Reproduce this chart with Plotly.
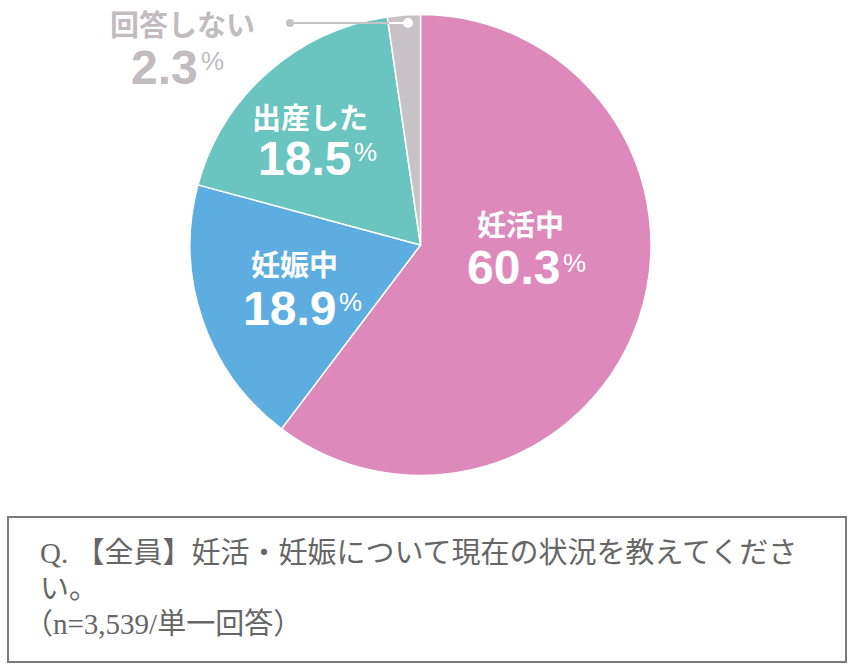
import plotly.graph_objects as go

# ---- data ----
labels = ["妊活中", "妊娠中", "出産した", "回答しない"]
values = [60.3, 18.9, 18.5, 2.3]
colors = ["#DD89BC", "#5EADE0", "#6AC4C0", "#C8C1C5"]
value_text = ["60.3", "18.9", "18.5", "2.3"]
caption_lines = [
    "Q. 【全員】妊活・妊娠について現在の状況を教えてくださ",
    "い。",
    "（n=3,539/単一回答）",
]

W, H = 853, 668


def px(x):
    return x / W


def py(y):
    return 1 - y / H


fig = go.Figure(
    go.Pie(
        labels=labels,
        values=values,
        sort=False,
        direction="clockwise",
        rotation=0,
        marker=dict(colors=colors, line=dict(color="white", width=1.5)),
        textinfo="none",
        hoverinfo="skip",
        showlegend=False,
        domain=dict(x=[px(190), px(651)], y=[py(475.5), py(14.5)]),
    )
)

JP = "Noto Sans CJK JP"
NUM = "Liberation Sans"

# label layout: (title center x, title center y, number right x, number center y, pct center y, text color)
label_pos = [
    (520, 223, 562, 268, 263, "white"),
    (294, 263, 338, 308, 302, "white"),
    (310, 116, 353, 158, 152, "white"),
    (182, 23, 200, 67, 61, "#C2BBBF"),
]

annotations = []
for i, (tx, ty, nx, ny, pcty, col) in enumerate(label_pos):
    annotations.append(dict(
        x=px(tx), y=py(ty), xref="paper", yref="paper", showarrow=False,
        text="<b>%s</b>" % labels[i], xanchor="center", yanchor="middle",
        font=dict(family=JP, size=29, color=col),
    ))
    annotations.append(dict(
        x=px(nx), y=py(ny), xref="paper", yref="paper", showarrow=False,
        text="<b>%s</b>" % value_text[i], xanchor="right", yanchor="middle",
        font=dict(family=NUM, size=48, color=col),
    ))
    annotations.append(dict(
        x=px(nx - 1), y=py(pcty), xref="paper", yref="paper", showarrow=False,
        text="%", xanchor="left", yanchor="middle",
        font=dict(family=NUM, size=26, color=col),
    ))

caption_x = [38, 38, 22]
caption_y = [553, 589, 624]
for line, cx, cy in zip(caption_lines, caption_x, caption_y):
    annotations.append(dict(
        x=px(cx), y=py(cy), xref="paper", yref="paper", showarrow=False,
        text=line, xanchor="left", yanchor="middle",
        font=dict(family="Liberation Serif, " + JP, size=29, color="#666666"),
    ))

shapes = [
    # caption box
    dict(type="rect", xref="paper", yref="paper",
         x0=px(8), x1=px(846), y0=py(662), y1=py(517),
         line=dict(color="#7A7A7A", width=2), fillcolor="rgba(0,0,0,0)"),
    # leader line for 回答しない
    dict(type="line", xref="paper", yref="paper",
         x0=px(290), x1=px(389), y0=py(23), y1=py(23),
         line=dict(color="#C8C1C5", width=2)),
    dict(type="line", xref="paper", yref="paper",
         x0=px(389), x1=px(408), y0=py(23), y1=py(23),
         line=dict(color="white", width=2)),
    dict(type="circle", xref="paper", yref="paper",
         x0=px(286), x1=px(294), y0=py(27), y1=py(19),
         line=dict(width=0), fillcolor="#C8C1C5"),
    dict(type="circle", xref="paper", yref="paper",
         x0=px(403), x1=px(413), y0=py(28), y1=py(18),
         line=dict(width=0), fillcolor="white"),
]

fig.update_layout(
    width=W, height=H,
    margin=dict(l=0, r=0, t=0, b=0),
    paper_bgcolor="white", plot_bgcolor="white",
    annotations=annotations, shapes=shapes,
)

fig.write_html(
    "out.html",
    config={"displayModeBar": False},
    post_script="document.body.style.margin='0px';document.body.style.overflow='hidden';",
)
